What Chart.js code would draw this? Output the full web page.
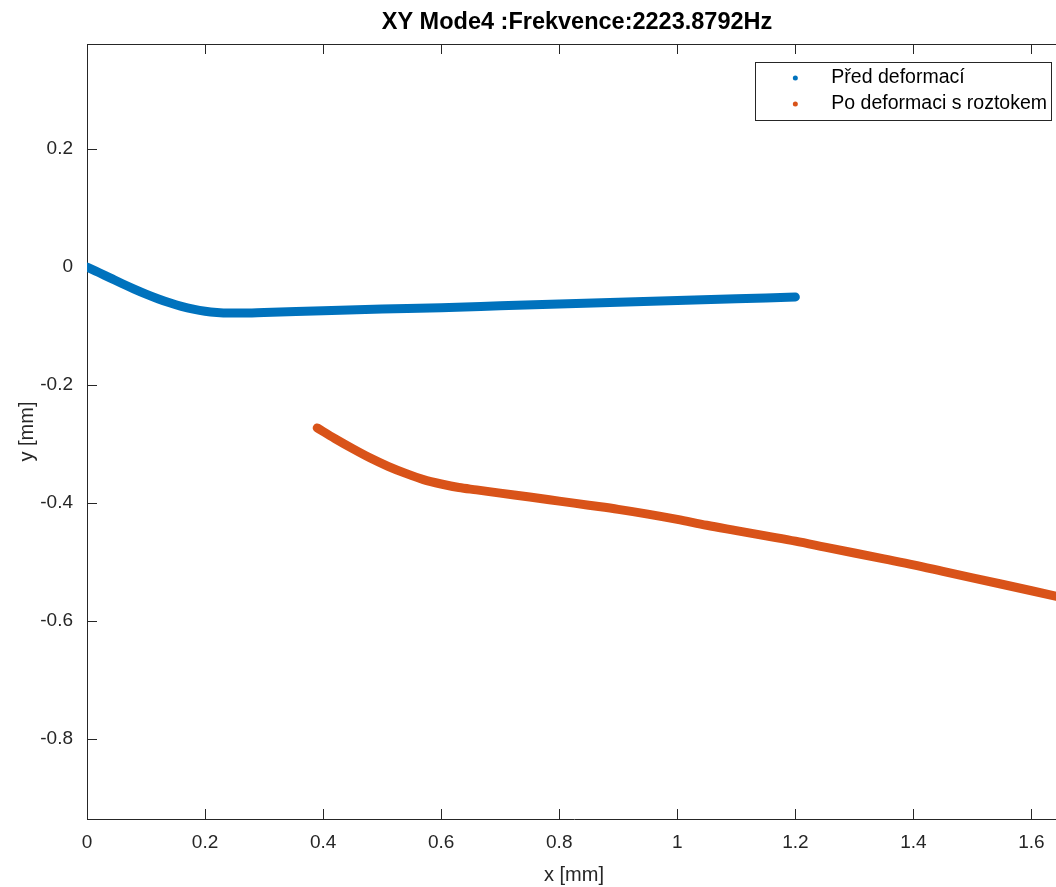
<!DOCTYPE html>
<html>
<head>
<meta charset="utf-8">
<script src="https://cdn.jsdelivr.net/npm/chart.js@4.4.1/dist/chart.umd.min.js"></script>
<style>
  html, body { margin: 0; padding: 0; background: #fff; overflow: hidden; }
  #wrap { width: 1056px; height: 887px; overflow: hidden; position: relative; }
  canvas { display: block; }
</style>
</head>
<body>
<div id="wrap"><canvas id="c" width="1061" height="887"></canvas></div>
<script>
// Chart text
const titleText = 'XY Mode4 :Frekvence:2223.8792Hz';
const xAxisLabel = 'x [mm]';
const yAxisLabel = 'y [mm]';
const seriesNames = ['Před deformací', 'Po deformaci s roztokem'];

// Series 1: before deformation
const beforeX = [0, 0.02, 0.04, 0.06, 0.08, 0.10, 0.12, 0.14, 0.16, 0.18, 0.20, 0.22, 0.24, 0.26, 0.30, 0.40, 0.50, 0.60, 0.70, 0.80, 0.90, 1.00, 1.10, 1.20];
const beforeY = [0, -0.0095, -0.019, -0.0285, -0.0375, -0.046, -0.0538, -0.0608, -0.0668, -0.0716, -0.0752, -0.0773, -0.0782, -0.0782, -0.0772, -0.0742, -0.0715, -0.069, -0.066, -0.063, -0.060, -0.057, -0.054, -0.051];

// Series 2: after deformation with solution
const afterX = [0.39, 0.42, 0.45, 0.48, 0.51, 0.54, 0.57, 0.60, 0.63, 0.66, 0.70, 0.75, 0.80, 0.85, 0.90, 0.95, 1.00, 1.05, 1.10, 1.15, 1.20, 1.25, 1.30, 1.35, 1.40, 1.45, 1.50, 1.55, 1.60, 1.65];
const afterY = [-0.273, -0.291, -0.308, -0.324, -0.338, -0.350, -0.3605, -0.368, -0.374, -0.378, -0.3835, -0.390, -0.397, -0.404, -0.411, -0.419, -0.428, -0.438, -0.447, -0.456, -0.465, -0.475, -0.485, -0.495, -0.505, -0.516, -0.527, -0.538, -0.549, -0.560];

// Axis ticks and limits
const xTickValues = [0, 0.2, 0.4, 0.6, 0.8, 1, 1.2, 1.4, 1.6];
const yTickValues = [-0.8, -0.6, -0.4, -0.2, 0, 0.2];
const xLimits = [0, 1.65];
const yLimits = [-0.936, 0.378];

const seriesColors = ['#0072BD', '#D95319'];
const axisColor = '#262626';
const fontFamily = '"Liberation Sans", Arial, Helvetica, sans-serif';

const toPoints = (xs, ys) => xs.map((v, i) => ({ x: v, y: ys[i] }));
const fmt = v => String(Math.round(v * 10) / 10);

// Box, inward tick marks and the title, drawn under the data
const axesFrame = {
  id: 'axesFrame',
  beforeDatasetsDraw(chart) {
    const { ctx, chartArea: a, scales: { x, y } } = chart;
    ctx.save();
    ctx.strokeStyle = axisColor;
    ctx.lineWidth = 1;
    ctx.beginPath();
    ctx.moveTo(a.left, Math.round(a.top) + 0.5);
    ctx.lineTo(a.right, Math.round(a.top) + 0.5);
    x.ticks.forEach(t => {
      const px = Math.round(x.getPixelForValue(t.value)) + 0.5;
      ctx.moveTo(px, a.bottom); ctx.lineTo(px, a.bottom - 10);
      ctx.moveTo(px, a.top); ctx.lineTo(px, a.top + 10);
    });
    y.ticks.forEach(t => {
      const py = Math.round(y.getPixelForValue(t.value)) + 0.5;
      ctx.moveTo(a.left, py); ctx.lineTo(a.left + 10, py);
    });
    ctx.stroke();
    ctx.fillStyle = '#000';
    ctx.font = 'bold 23.5px ' + fontFamily;
    ctx.textAlign = 'center';
    ctx.textBaseline = 'middle';
    ctx.fillText(titleText, (a.left + a.right) / 2 + 3, 23);
    ctx.restore();
  }
};

// Boxed legend in the upper right corner of the plot area
const boxedLegend = {
  id: 'boxedLegend',
  afterDraw(chart) {
    const { ctx, chartArea: a } = chart;
    const ds = chart.data.datasets;
    ctx.save();
    ctx.font = '19.5px ' + fontFamily;
    const textW = Math.max(...ds.map(d => ctx.measureText(d.label).width));
    const right = a.right - 10;
    const left = right - textW - 80;
    const top = a.top + 18;
    const height = 58;
    ctx.fillStyle = '#fff';
    ctx.fillRect(left, top, right - left, height);
    ctx.strokeStyle = axisColor;
    ctx.lineWidth = 1;
    ctx.strokeRect(Math.round(left) + 0.5, Math.round(top) + 0.5, Math.round(right - left), height);
    ds.forEach((d, i) => {
      const cy = top + 16 + i * 26;
      ctx.fillStyle = d.borderColor;
      ctx.beginPath();
      ctx.arc(left + 40, cy, 2.5, 0, Math.PI * 2);
      ctx.fill();
      ctx.fillStyle = '#000';
      ctx.textAlign = 'left';
      ctx.textBaseline = 'middle';
      ctx.fillText(d.label, left + 76, cy);
    });
    ctx.restore();
  }
};

new Chart(document.getElementById('c'), {
  type: 'scatter',
  data: {
    datasets: [
      { label: seriesNames[0], data: toPoints(beforeX, beforeY), borderColor: seriesColors[0], backgroundColor: seriesColors[0] },
      { label: seriesNames[1], data: toPoints(afterX, afterY), borderColor: seriesColors[1], backgroundColor: seriesColors[1] }
    ].map(d => Object.assign(d, {
      showLine: true, pointRadius: 0, pointHoverRadius: 0, borderWidth: 9,
      borderCapStyle: 'round', borderJoinStyle: 'round', cubicInterpolationMode: 'monotone'
    }))
  },
  options: {
    responsive: false,
    devicePixelRatio: 1,
    animation: false,
    events: [],
    layout: { padding: { top: 44, right: 0, left: 0, bottom: 0 } },
    plugins: { legend: { display: false }, tooltip: { enabled: false }, title: { display: false } },
    scales: {
      x: {
        type: 'linear', min: xLimits[0], max: xLimits[1],
        afterBuildTicks: s => { s.ticks = xTickValues.map(v => ({ value: v })); },
        afterFit: s => { s.height = 68; s.paddingLeft = 0; s.paddingRight = 0; },
        grid: { drawOnChartArea: false, drawTicks: false },
        border: { display: true, color: axisColor, width: 1 },
        ticks: { padding: 12, color: axisColor, font: { family: fontFamily, size: 19 }, callback: v => fmt(v), maxRotation: 0, autoSkip: false },
        title: { display: true, text: xAxisLabel, color: axisColor, font: { family: fontFamily, size: 20 }, padding: { top: 0, bottom: 0 } }
      },
      y: {
        type: 'linear', min: yLimits[0], max: yLimits[1],
        afterBuildTicks: s => { s.ticks = yTickValues.map(v => ({ value: v })); },
        afterFit: s => { s.width = 87; },
        grid: { drawOnChartArea: false, drawTicks: false },
        border: { display: true, color: axisColor, width: 1 },
        ticks: { padding: 14, color: axisColor, font: { family: fontFamily, size: 19 }, callback: v => fmt(v), autoSkip: false },
        title: { display: true, text: yAxisLabel, color: axisColor, font: { family: fontFamily, size: 20 }, padding: { top: 15, bottom: 0 } }
      }
    }
  },
  plugins: [axesFrame, boxedLegend]
});
</script>
</body>
</html>
